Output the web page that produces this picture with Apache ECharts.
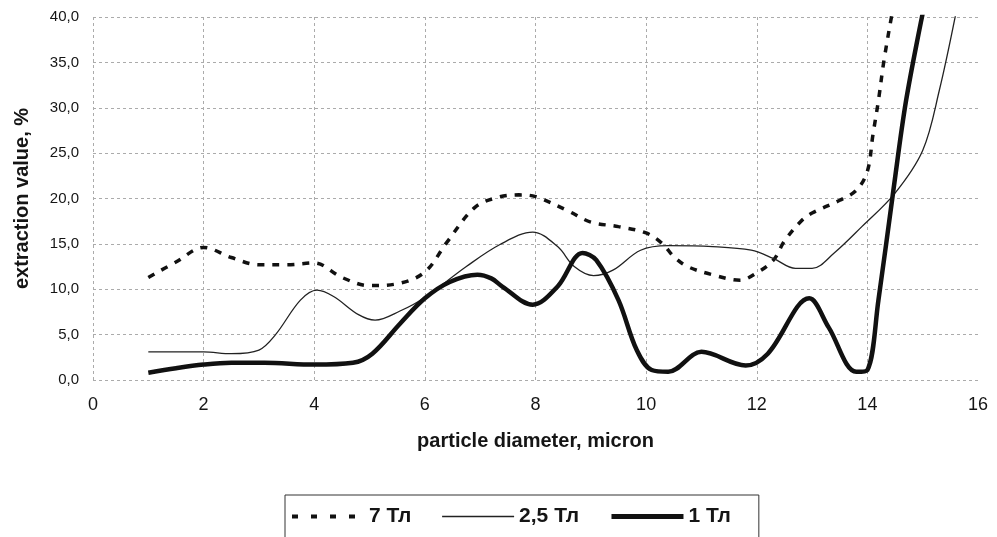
<!DOCTYPE html>
<html>
<head>
<meta charset="utf-8">
<script src="https://cdn.jsdelivr.net/npm/echarts@6/dist/echarts.min.js"></script>
<style>
html,body{margin:0;padding:0;background:#fff;}
#c{width:997px;height:537px;}
</style>
</head>
<body>
<div id="c"></div>
<script>
var seriesNames = ['7 Тл', '2,5 Тл', '1 Тл'];
var xTicks = [0, 2, 4, 6, 8, 10, 12, 14, 16];
var yTicks = [0, 5, 10, 15, 20, 25, 30, 35, 40];

var s7 = [
  [1.0, 11.3], [1.5, 13.0], [2.0, 14.6], [2.5, 13.5], [3.0, 12.7], [3.5, 12.7],
  [4.0, 12.9], [4.5, 11.3], [5.0, 10.4], [5.5, 10.6], [6.0, 11.9], [6.4, 15.2],
  [6.9, 19.0], [7.3, 20.1], [7.7, 20.4], [8.0, 20.2], [8.6, 18.6], [9.0, 17.4],
  [9.5, 16.9], [10.0, 16.2], [10.3, 15.0], [10.5, 13.6], [10.75, 12.5], [11.2, 11.6],
  [11.7, 11.0], [12.0, 11.8], [12.3, 13.2], [12.5, 15.3], [12.8, 17.5], [13.0, 18.4],
  [13.5, 19.8], [13.8, 20.9], [14.0, 23.0], [14.1, 27.0], [14.2, 30.8], [14.3, 35.2],
  [14.45, 40.5], [14.5, 42.0]
];
var s25 = [
  [1.0, 3.1], [2.0, 3.1], [2.5, 2.9], [3.0, 3.3], [3.3, 5.0], [3.75, 8.8],
  [4.05, 9.9], [4.35, 9.2], [4.8, 7.2], [5.1, 6.6], [5.55, 7.6], [6.0, 9.1],
  [6.75, 12.5], [7.35, 14.9], [7.95, 16.3], [8.4, 14.7], [8.7, 12.5], [9.05, 11.5],
  [9.4, 12.1], [9.9, 14.3], [10.4, 14.8], [11.2, 14.7], [11.9, 14.3], [12.3, 13.4],
  [12.7, 12.3], [13.0, 12.3], [13.4, 14.0], [13.9, 16.9], [14.5, 20.6], [15.0, 25.3],
  [15.3, 31.9], [15.6, 40.4]
];
var s1 = [
  [1.0, 0.8], [1.5, 1.3], [2.0, 1.7], [2.5, 1.9], [3.1, 1.9], [4.0, 1.7],
  [4.7, 1.9], [5.05, 2.9], [5.55, 6.2], [6.0, 9.0], [6.45, 10.8], [6.95, 11.6],
  [7.2, 11.2], [7.4, 10.3], [7.95, 8.3], [8.4, 10.3], [8.85, 14.0], [9.1, 13.2],
  [9.5, 8.8], [9.83, 3.3], [10.1, 1.1], [10.4, 0.9], [11.0, 3.1], [11.8, 1.6],
  [12.2, 2.9], [12.95, 9.0], [13.3, 5.8], [13.8, 0.9], [14.0, 1.1], [14.2, 8.8],
  [14.47, 20.9], [14.7, 30.8], [15.0, 40.4]
];

var chart = echarts.init(document.getElementById('c'));
var textColor = '#151515';
var gridStyle = { color: '#ababab', width: 1, type: [3, 3] };
var font = 'Liberation Sans, Arial, sans-serif';

chart.setOption({
  backgroundColor: '#ffffff',
  animation: false,
  grid: { left: 93, right: 19, top: 17, bottom: 157, containLabel: false },
  xAxis: {
    type: 'value', min: xTicks[0], max: xTicks[xTicks.length - 1], interval: 2,
    name: 'particle diameter, micron', nameLocation: 'middle', nameGap: 51,
    nameTextStyle: { fontFamily: font, fontWeight: 'bold', fontSize: 20, color: textColor },
    axisLine: { show: false }, axisTick: { show: false },
    axisLabel: { margin: 16, fontFamily: font, fontSize: 18, color: textColor },
    splitLine: { show: true, showMaxLine: false, lineStyle: gridStyle }
  },
  yAxis: {
    type: 'value', min: yTicks[0], max: yTicks[yTicks.length - 1], interval: 5,
    name: 'extraction value, %', nameLocation: 'middle', nameGap: 61,
    nameTextStyle: { fontFamily: font, fontWeight: 'bold', fontSize: 20, color: textColor },
    axisLine: { show: false }, axisTick: { show: false },
    axisLabel: { margin: 14, fontFamily: font, fontSize: 15, color: textColor,
      formatter: function (v) { return v.toFixed(1).replace('.', ','); } },
    splitLine: { show: true, lineStyle: gridStyle }
  },
  legend: {
    left: 285, top: 495,
    padding: [11, 28, 30, 5],
    borderColor: '#333', borderWidth: 1,
    itemGap: 30, itemWidth: 72, itemHeight: 14,
    itemStyle: { opacity: 0 },
    textStyle: { fontFamily: font, fontWeight: 'bold', fontSize: 21, color: textColor },
    data: [
      { name: seriesNames[0], lineStyle: { color: '#111', width: 4, type: [6, 13] } },
      { name: seriesNames[1], lineStyle: { color: '#222', width: 1.5, type: 'solid' } },
      { name: seriesNames[2], lineStyle: { color: '#111', width: 5, type: 'solid' } }
    ]
  },
  series: [
    { name: seriesNames[0], type: 'line', data: s7, smooth: 0.35, symbol: 'none', clip: true,
      color: '#111', lineStyle: { color: '#111', width: 3.5, type: [7, 8] } },
    { name: seriesNames[1], type: 'line', data: s25, smooth: 0.35, symbol: 'none', clip: true,
      color: '#222', lineStyle: { color: '#222', width: 1.3 } },
    { name: seriesNames[2], type: 'line', data: s1, smooth: 0.35, symbol: 'none', clip: true,
      color: '#111', lineStyle: { color: '#111', width: 4.5 } }
  ]
});
</script>
</body>
</html>
